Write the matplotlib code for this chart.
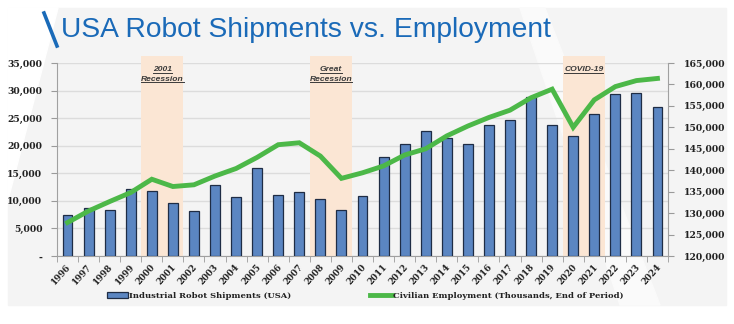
#!/usr/bin/env python3
"""
USA robot shipments vs. civilian employment, 1996-2024
"""

import matplotlib
matplotlib.use('Agg')
import matplotlib.pyplot as plt
from matplotlib.patches import Rectangle, Polygon
from matplotlib.lines import Line2D
from matplotlib.ticker import FuncFormatter, FixedLocator
from matplotlib.transforms import ScaledTranslation

years = list(range(1996, 2025))
shipments = [7500, 8650, 8300, 12100, 11700, 9550, 8100, 12800, 10650,
             16000, 11000, 11550, 10300, 8300, 10800, 17900, 20400, 22700,
             21400, 20300, 23700, 24700, 28800, 23800, 21800, 25800, 29300,
             29500, 27100]
employment = [127800, 130500, 132700, 134800, 137900, 136200, 136600,
              138650, 140400, 143000, 145950, 146400, 143300, 138100,
              139400, 141000, 143550, 145000, 148000, 150300, 152300,
              154000, 156900, 158900, 150000, 156400, 159500, 160900,
              161400]
recessions = [(2000, 2001, '2001\nRecession'),
              (2008, 2009, 'Great\nRecession'),
              (2020, 2021, 'COVID-19')]

BAR_COLOR = '#5b86c2'
LINE_COLOR = '#4cb848'
SHADE_COLOR = '#fbe6d4'
TITLE_COLOR = '#1a6ab8'
Y_FONT = dict(family='DejaVu Serif', weight='bold', size=6.7, color='#222222')
X_FONT = dict(family='DejaVu Serif', weight='bold', size=6.2, color='#222222')


def thousands(v, pos):
    return '-' if v == 0 else f'{v:,.0f}'


def main():
    fig = plt.figure(figsize=(7.34, 3.24), dpi=100)
    W, H = 734, 324

    # light gray panel with a white sweep on the left
    fig.patches.append(Rectangle((8 / W, 1 - 305 / H), 718 / W, 297 / H,
                                 transform=fig.transFigure, color='#f4f4f4', zorder=-3))
    fig.patches.append(Polygon([(8 / W, 1 - 8 / H), (58 / W, 1 - 8 / H),
                                (8 / W, 1 - 200 / H)],
                               transform=fig.transFigure, color='white', zorder=-2))
    fig.patches.append(Polygon([(520 / W, 1 - 8 / H), (545 / W, 1 - 8 / H),
                                (660 / W, 1 - 305 / H), (620 / W, 1 - 305 / H)],
                               transform=fig.transFigure, color='#fafafa', zorder=-2))

    # title with the blue slash
    fig.add_artist(Line2D([44 / W, 57 / W], [1 - 13 / H, 1 - 46 / H],
                          color=TITLE_COLOR, linewidth=2.6, transform=fig.transFigure))
    fig.text(61 / W, 1 - 30 / H, 'USA Robot Shipments vs. Employment',
             family='Liberation Sans', size=20.3, color=TITLE_COLOR,
             ha='left', va='center')

    ax = fig.add_axes([57 / W, 1 - 256 / H, 611 / W, 193 / H])
    ax.set_facecolor('none')
    x = list(range(len(years)))

    ax.bar(x, shipments, width=0.47, color=BAR_COLOR, edgecolor='#1f2d45',
           linewidth=0.9, zorder=3, label='Industrial Robot Shipments (USA)')
    ax.set_xlim(-0.5, len(years) - 0.5)
    ax.set_ylim(0, 35000)
    ax.set_yticks(range(0, 35001, 5000))
    ax.yaxis.set_major_formatter(FuncFormatter(thousands))
    ax.grid(axis='y', color='#dcdcdc', linewidth=1.0, zorder=0)
    ax.set_axisbelow(True)

    # recession bands and their labels
    band_labels = []
    for start, end, label in recessions:
        i0, i1 = years.index(start) - 0.5, years.index(end) + 0.5
        ax.axvspan(i0, i1, ymin=0, ymax=1.036, color=SHADE_COLOR, zorder=1,
                   clip_on=False, lw=0)
        for k, line in enumerate(label.split('\n')):
            t = ax.text((i0 + i1) / 2, 33500 - k * 1750, line, ha='center', va='baseline',
                        fontsize=6.1, style='italic', weight='bold', color='#3a3a3a',
                        family='Liberation Sans', zorder=4)
            band_labels.append(t)

    ax.set_xticks(x)
    ax.set_xticklabels([str(y) for y in years], rotation=48, ha='right', va='center',
                       rotation_mode='anchor', fontdict=X_FONT)
    ax.tick_params(axis='x', length=0, pad=7)
    shift = ScaledTranslation(2 / 100, 0, fig.dpi_scale_trans)
    for lab in ax.get_xticklabels():
        lab.set_transform(lab.get_transform() + shift)
    ax.xaxis.set_minor_locator(FixedLocator([i - 0.5 for i in range(len(years) + 1)]))
    ax.tick_params(axis='x', which='minor', length=4, color='#9a9a9a')
    ax.tick_params(axis='y', length=4, color='#9a9a9a', pad=6.5)
    for lab in ax.get_yticklabels():
        lab.set(**Y_FONT)

    for side in ['top', 'right']:
        ax.spines[side].set_visible(False)
    for side in ['left', 'bottom']:
        ax.spines[side].set_color('#a0a0a0')

    ax2 = ax.twinx()
    ax2.plot(x, employment, color=LINE_COLOR, linewidth=3.5, zorder=5,
             solid_joinstyle='miter', label='Civilian Employment (Thousands, End of Period)')
    ax2.set_ylim(120000, 165000)
    ax2.set_yticks(range(120000, 165001, 5000))
    ax2.yaxis.set_major_formatter(FuncFormatter(thousands))
    ax2.tick_params(axis='y', length=4, color='#9a9a9a', pad=7.2)
    for lab in ax2.get_yticklabels():
        lab.set(**Y_FONT)
    for side in ['top', 'left', 'bottom']:
        ax2.spines[side].set_visible(False)
    ax2.spines['right'].set_color('#a0a0a0')

    # underline the band labels just below their baseline
    fig.canvas.draw()
    renderer = fig.canvas.get_renderer()
    inv = fig.transFigure.inverted()
    for t in band_labels:
        bb = t.get_window_extent(renderer)
        _, base = ax.transData.transform(t.get_position())
        (x0, y0), (x1, _) = inv.transform([(bb.x0, base - 1.5), (bb.x1, base)])
        fig.add_artist(Line2D([x0, x1], [y0, y0], color='#3a3a3a',
                              linewidth=0.7, transform=fig.transFigure, zorder=6))

    handles = [ax.containers[0].patches[0], ax2.get_lines()[0]]
    labels = ['Industrial Robot Shipments (USA)',
              'Civilian Employment (Thousands, End of Period)']
    leg = fig.legend(handles, labels, loc='center', bbox_to_anchor=(365 / W, 1 - 296 / H),
                     ncol=2, frameon=False, handlelength=2.6, handletextpad=0.1,
                     columnspacing=9.5, prop=dict(family='DejaVu Serif', weight='bold', size=6.0))
    for txt in leg.get_texts():
        txt.set_color('#222222')

    fig.savefig('out.png', dpi=100)


if __name__ == "__main__":
    main()
